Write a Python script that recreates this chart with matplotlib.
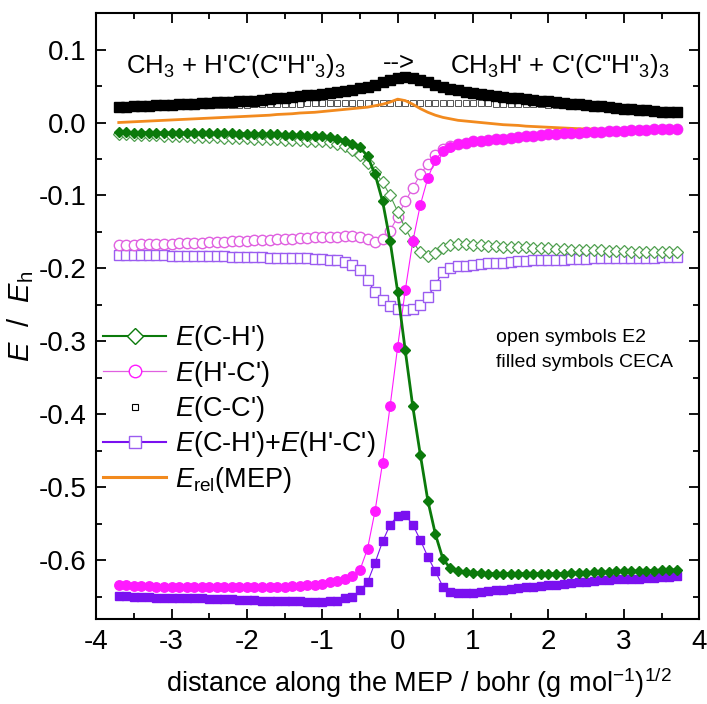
import numpy as np
import matplotlib
matplotlib.use("Agg")
import matplotlib.pyplot as plt
from matplotlib.lines import Line2D
from matplotlib.ticker import MultipleLocator

plt.rcParams['font.family'] = ['Liberation Sans', 'DejaVu Sans']
plt.rcParams['mathtext.fontset'] = 'custom'
plt.rcParams['mathtext.rm'] = 'Liberation Sans'
plt.rcParams['mathtext.it'] = 'Liberation Sans:italic'
plt.rcParams['mathtext.bf'] = 'Liberation Sans:bold'

# reaction coordinate grid (bohr (g/mol)^1/2)
s = np.round(np.arange(-37, 38) / 10.0, 1)

# E(C-C') CECA (filled black squares)
cc_ceca = [0.021, 0.0215, 0.022, 0.0225, 0.023, 0.0235, 0.024, 0.0245,
           0.025, 0.0255, 0.026, 0.0265, 0.027, 0.0275, 0.028, 0.0285, 0.029, 0.0295,
           0.030, 0.031, 0.032, 0.033, 0.034, 0.035, 0.036, 0.037, 0.038, 0.039,
           0.040, 0.042, 0.043, 0.045, 0.047, 0.049, 0.052, 0.055, 0.058, 0.061,
           0.062, 0.061, 0.058, 0.055, 0.051, 0.048, 0.046, 0.044, 0.042, 0.040,
           0.039, 0.038, 0.036, 0.035, 0.034, 0.033, 0.032, 0.031, 0.030, 0.029,
           0.028, 0.027, 0.026, 0.025, 0.024, 0.023, 0.022, 0.021, 0.020, 0.019,
           0.018, 0.017, 0.0165, 0.016, 0.015, 0.0145, 0.014]

# E(C-C') E2 (open black squares)
cc_e2 = [0.020, 0.0205, 0.021, 0.0213, 0.0216, 0.022, 0.0222, 0.0225,
         0.0228, 0.023, 0.0232, 0.0234, 0.0236, 0.0238, 0.024, 0.0242, 0.0244, 0.0246,
         0.0248, 0.025, 0.0252, 0.0254, 0.0256, 0.0258, 0.026, 0.0261, 0.0262, 0.0263,
         0.0264, 0.0265, 0.0266, 0.0267, 0.0268, 0.0269, 0.027, 0.027, 0.027, 0.027,
         0.027, 0.027, 0.027, 0.027, 0.027, 0.0268, 0.0267, 0.0266, 0.0265, 0.0264,
         0.0263, 0.0262, 0.026, 0.0258, 0.0256, 0.0254, 0.0252, 0.025, 0.0248, 0.0246,
         0.0244, 0.0242, 0.024, 0.0235, 0.023, 0.0225, 0.022, 0.021, 0.020, 0.019,
         0.018, 0.017, 0.0165, 0.016, 0.015, 0.0145, 0.014]

# E_rel along the MEP (orange line)
erel = [0.000, 0.0005, 0.001, 0.0015, 0.002, 0.0025, 0.003, 0.0035,
        0.004, 0.0045, 0.005, 0.0055, 0.006, 0.0065, 0.007, 0.0075, 0.008, 0.0085,
        0.009, 0.0095, 0.010, 0.011, 0.0115, 0.012, 0.013, 0.0135, 0.014, 0.015,
        0.016, 0.017, 0.018, 0.019, 0.020, 0.021, 0.023, 0.025, 0.028, 0.032,
        0.030, 0.025, 0.019, 0.014, 0.010, 0.007, 0.005, 0.003, 0.002, 0.001,
        0.000, -0.001, -0.002, -0.003, -0.0035, -0.004, -0.005, -0.0055, -0.006, -0.0065,
        -0.007, -0.0075, -0.008, -0.0085, -0.009, -0.009, -0.0095, -0.0095, -0.010, -0.010,
        -0.0105, -0.0105, -0.011, -0.011, -0.011, -0.0115, -0.0115]

# E(C-H') CECA (filled green diamonds)
ch_ceca = [-0.0135, -0.0136, -0.0137, -0.0138, -0.0139, -0.014, -0.0141, -0.0142,
           -0.0143, -0.0144, -0.0145, -0.0146, -0.0147, -0.0148, -0.0149, -0.015, -0.0151, -0.0152,
           -0.0155, -0.0157, -0.016, -0.0163, -0.0166, -0.017, -0.0175, -0.018, -0.0185, -0.019,
           -0.020, -0.022, -0.025, -0.029, -0.034, -0.046, -0.071, -0.108, -0.163, -0.232,
           -0.312, -0.389, -0.455, -0.518, -0.564, -0.598, -0.611, -0.614, -0.616, -0.617,
           -0.617, -0.618, -0.618, -0.618, -0.618, -0.618, -0.618, -0.618, -0.618, -0.618,
           -0.618, -0.618, -0.617, -0.617, -0.617, -0.616, -0.616, -0.616, -0.615, -0.615,
           -0.615, -0.614, -0.614, -0.614, -0.613, -0.613, -0.613]

# E(C-H') E2 (open green diamonds)
ch_e2 = [-0.016, -0.0163, -0.0166, -0.017, -0.0173, -0.0176, -0.018, -0.0183,
         -0.0186, -0.019, -0.0193, -0.0196, -0.020, -0.0203, -0.0206, -0.021, -0.0213, -0.0216,
         -0.022, -0.0224, -0.0228, -0.0232, -0.0236, -0.024, -0.0245, -0.025, -0.0255, -0.026,
         -0.027, -0.029, -0.032, -0.037, -0.045, -0.056, -0.068, -0.082, -0.100, -0.122,
         -0.145, -0.163, -0.178, -0.183, -0.179, -0.172, -0.168, -0.167, -0.167, -0.168,
         -0.168, -0.169, -0.169, -0.170, -0.170, -0.171, -0.171, -0.172, -0.172, -0.172,
         -0.173, -0.173, -0.174, -0.174, -0.175, -0.175, -0.175, -0.176, -0.176, -0.176,
         -0.177, -0.177, -0.177, -0.177, -0.178, -0.178, -0.178]

# E(H'-C') CECA (filled magenta circles)
hc_ceca = [-0.634, -0.634, -0.635, -0.635, -0.635, -0.636, -0.636, -0.636,
           -0.636, -0.637, -0.637, -0.637, -0.637, -0.637, -0.637, -0.637, -0.637, -0.637,
           -0.637, -0.637, -0.636, -0.636, -0.636, -0.635, -0.635, -0.634, -0.633, -0.632,
           -0.630, -0.628, -0.625, -0.622, -0.613, -0.584, -0.532, -0.466, -0.388, -0.307,
           -0.230, -0.163, -0.113, -0.076, -0.051, -0.039, -0.033, -0.030, -0.028, -0.026,
           -0.025, -0.024, -0.023, -0.022, -0.021, -0.020, -0.019, -0.018, -0.017, -0.016,
           -0.0155, -0.015, -0.0145, -0.014, -0.0135, -0.013, -0.0125, -0.012, -0.0115, -0.011,
           -0.0105, -0.010, -0.010, -0.0095, -0.0095, -0.009, -0.009]

# E(H'-C') E2 (open magenta circles)
hc_e2 = [-0.168, -0.1677, -0.1674, -0.1671, -0.1668, -0.1665, -0.1662, -0.166,
         -0.1657, -0.1654, -0.165, -0.1647, -0.1644, -0.164, -0.1635, -0.163, -0.1625, -0.162,
         -0.1615, -0.161, -0.1605, -0.160, -0.1595, -0.159, -0.1585, -0.158, -0.1575, -0.157,
         -0.1567, -0.1564, -0.156, -0.156, -0.157, -0.160, -0.164, -0.159, -0.148, -0.129,
         -0.108, -0.090, -0.071, -0.057, -0.044, -0.036, -0.032, -0.030, -0.028, -0.026,
         -0.025, -0.024, -0.023, -0.022, -0.021, -0.020, -0.019, -0.018, -0.017, -0.016,
         -0.0155, -0.015, -0.0145, -0.014, -0.0135, -0.013, -0.0125, -0.012, -0.0115, -0.011,
         -0.0105, -0.010, -0.010, -0.0095, -0.0095, -0.009, -0.009]

# E(C-H')+E(H'-C') E2 (open purple squares)
sum_e2 = [-0.181, -0.181, -0.1815, -0.1815, -0.182, -0.182, -0.182, -0.1825,
          -0.1825, -0.183, -0.183, -0.183, -0.183, -0.1835, -0.1835, -0.184, -0.184, -0.184,
          -0.1845, -0.1845, -0.185, -0.185, -0.185, -0.1855, -0.186, -0.186, -0.1865, -0.187,
          -0.188, -0.189, -0.191, -0.195, -0.202, -0.216, -0.232, -0.243, -0.252, -0.256,
          -0.257, -0.255, -0.250, -0.239, -0.222, -0.205, -0.199, -0.197, -0.196, -0.195,
          -0.194, -0.193, -0.192, -0.192, -0.191, -0.190, -0.190, -0.189, -0.189, -0.188,
          -0.188, -0.188, -0.187, -0.187, -0.187, -0.186, -0.186, -0.186, -0.186, -0.185,
          -0.185, -0.185, -0.185, -0.185, -0.184, -0.184, -0.184]

# E(C-H')+E(H'-C') CECA (filled purple squares)
sum_ceca = [-0.649, -0.649, -0.650, -0.650, -0.650, -0.651, -0.651, -0.651,
            -0.652, -0.652, -0.652, -0.652, -0.653, -0.653, -0.653, -0.653, -0.654, -0.654,
            -0.654, -0.655, -0.655, -0.655, -0.656, -0.656, -0.656, -0.657, -0.657, -0.657,
            -0.656, -0.655, -0.652, -0.650, -0.641, -0.630, -0.603, -0.574, -0.551, -0.539,
            -0.538, -0.551, -0.572, -0.595, -0.615, -0.636, -0.643, -0.644, -0.644, -0.644,
            -0.643, -0.642, -0.641, -0.640, -0.639, -0.638, -0.637, -0.636, -0.635, -0.634,
            -0.633, -0.632, -0.631, -0.630, -0.629, -0.628, -0.627, -0.627, -0.626, -0.626,
            -0.625, -0.625, -0.624, -0.624, -0.623, -0.623, -0.622]

legend_labels = [r"$\mathit{E}$(C-H')", r"$\mathit{E}$(H'-C')", r"$\mathit{E}$(C-C')",
                 r"$\mathit{E}$(C-H')+$\mathit{E}$(H'-C')", r"$\mathit{E}_{\mathrm{rel}}$(MEP)"]

GREEN = '#0b7a0b'
GREEN_L = '#4f9f4f'
MAG = '#ff1aff'
MAG_L = '#e060e0'
PURP = '#7a10f0'
PURP_L = '#9b5cf0'
ORANGE = '#f28a1e'

fig = plt.figure(figsize=(7.07, 7.04), dpi=100)
ax = fig.add_axes([0.136, 0.121, 0.853, 0.8605])

# open (E2) symbols
ax.plot(s, cc_e2, ls='none', marker='s', ms=4.2, mfc='white', mec='#555555', mew=0.7, zorder=2)
ax.plot(s, sum_e2, ls='-', lw=0.8, color=PURP, marker='s', ms=7, mfc='white', mec=PURP_L, mew=1.0, zorder=3)
ax.plot(s, hc_e2, ls='-', lw=0.8, color=MAG_L, marker='o', ms=7.5, mfc='white', mec=MAG_L, mew=1.0, zorder=3)
ax.plot(s, ch_e2, ls='-', lw=0.8, color=GREEN_L, marker='D', ms=6.5, mfc='white', mec=GREEN_L, mew=0.9, zorder=3)
# orange MEP energy
ax.plot(s, erel, color=ORANGE, lw=2.0, zorder=4)
# filled (CECA) symbols
ax.plot(s, cc_ceca, ls='none', marker='s', ms=7.5, color='black', zorder=5)
ax.plot(s, sum_ceca, ls='-', lw=0.8, color=PURP, marker='s', ms=5.5, zorder=5)
ax.plot(s, hc_ceca, ls='-', lw=0.8, color=MAG, marker='o', ms=6.8, zorder=5)
ax.plot(s, ch_ceca, ls='-', lw=2.0, color=GREEN, marker='D', ms=5.2, zorder=6)

ax.set_xlim(-4, 4)
ax.set_ylim(-0.68, 0.15)
ax.xaxis.set_minor_locator(MultipleLocator(0.5))
ax.yaxis.set_minor_locator(MultipleLocator(0.05))
ax.set_yticks([0.1, 0.0, -0.1, -0.2, -0.3, -0.4, -0.5, -0.6])
ax.set_yticklabels(['0.1', '0.0', '-0.1', '-0.2', '-0.3', '-0.4', '-0.5', '-0.6'])
ax.set_xticks([-4, -3, -2, -1, 0, 1, 2, 3, 4])
ax.set_xticklabels(['-4', '-3', '-2', '-1', '0', '1', '2', '3', '4'])
ax.tick_params(which='both', direction='in', top=True, right=True, labelsize=20, width=1.3)
ax.tick_params(which='major', length=7, pad=7)
ax.tick_params(which='minor', length=4)
for sp in ax.spines.values():
    sp.set_linewidth(1.5)

ax.set_xlabel(r"distance along the MEP / bohr (g mol$^{-1}$)$^{1/2}$", fontsize=19.5)
ax.xaxis.set_label_coords(0.535, -0.105, transform=ax.transAxes)
ax.xaxis.label.set_va('center')
ax.set_ylabel(r"$\mathit{E}$  /  $\mathit{E}_{\mathrm{h}}$", fontsize=21, labelpad=2)

ax.text(-3.6, 0.068, "CH$_3$ + H'C'(C\"H\"$_3$)$_3$", fontsize=18.5, ha='left', va='baseline')
ax.text(-0.19, 0.072, "-->", fontsize=18.5, ha='left', va='baseline')
ax.text(0.69, 0.068, "CH$_3$H' + C'(C\"H\"$_3$)$_3$", fontsize=18.5, ha='left', va='baseline')

ax.text(1.3, -0.294, "open symbols E2", fontsize=14, ha='left', va='center')
ax.text(1.3, -0.329, "filled symbols CECA", fontsize=14, ha='left', va='center')

handles = [
    Line2D([], [], color=GREEN, lw=1.5, marker='D', ms=8, mfc='white', mec=GREEN, mew=1.0),
    Line2D([], [], color=MAG_L, lw=0.9, marker='o', ms=9, mfc='white', mec=MAG, mew=1.0),
    Line2D([], [], ls='none', marker='s', ms=5, mfc='white', mec='black', mew=0.8),
    Line2D([], [], color=PURP, lw=1.5, marker='s', ms=8, mfc='white', mec=PURP_L, mew=1.0),
    Line2D([], [], color=ORANGE, lw=2.2),
]
ax.legend(handles, legend_labels, loc='upper left', bbox_to_anchor=(0.012, 0.488),
          frameon=False, fontsize=19.5, handlelength=2.3, handletextpad=0.35,
          labelspacing=0.2, borderpad=0, borderaxespad=0)

fig.savefig('out.png', dpi=100)
